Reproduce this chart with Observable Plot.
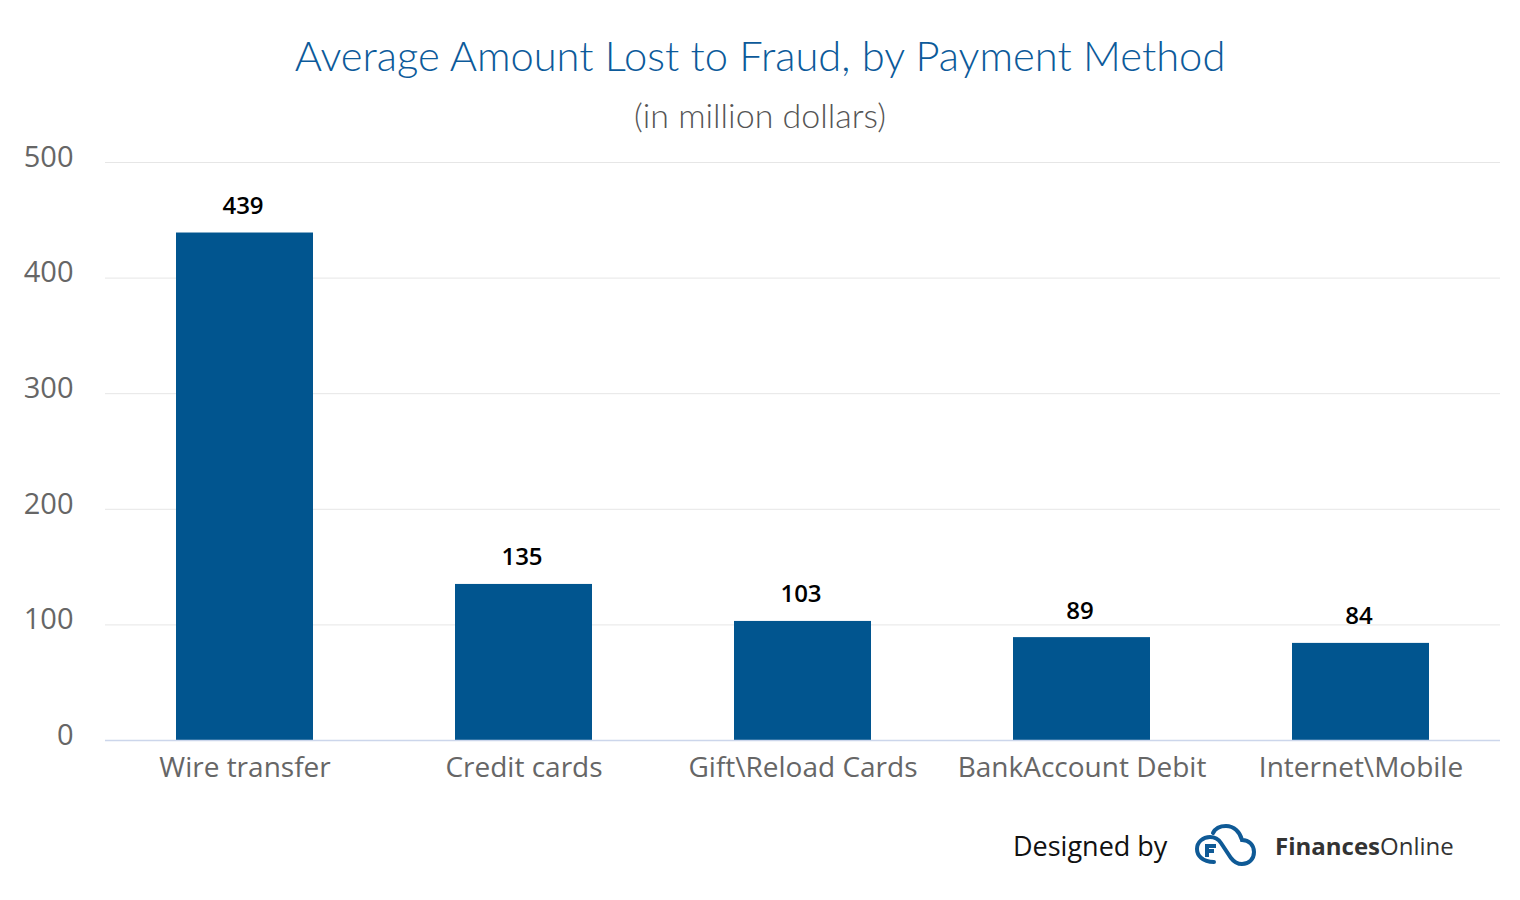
<!DOCTYPE html>
<html>
<head>
<meta charset="utf-8">
<script src="https://cdn.jsdelivr.net/npm/d3@7"></script>
<script src="https://cdn.jsdelivr.net/npm/@observablehq/plot@0.6"></script>
<style>
  html, body { margin: 0; padding: 0; background: #fff; width: 1520px; height: 900px; overflow: hidden; }
  #head { height: 110px; position: relative; }
  #title { position: absolute; left: 0; width: 1520px; top: 35px; text-align: center;
    font-family: Lato, sans-serif; font-weight: 300; font-size: 41.7px; color: #0c5a9a; line-height: 1; }
  #subtitle { position: absolute; left: 0; width: 1520px; top: 98px; text-align: center;
    font-family: Lato, sans-serif; font-weight: 300; font-size: 34px; color: #555; line-height: 1; }
  #chart { height: 710px; }
  #foot { position: relative; height: 80px; }
  #designed { position: absolute; left: 1013px; top: 12px; font-family: "Open Sans", sans-serif; font-size: 27px; color: #111; line-height: 1; }
  #logo { position: absolute; left: 1194px; top: 2px; }
  #brand { position: absolute; left: 1275px; top: 14px; font-family: "Open Sans", sans-serif; font-size: 24px; color: #333; line-height: 1; }
  #brand b { font-weight: 700; }
</style>
</head>
<body>
<div id="head">
  <div id="title">Average Amount Lost to Fraud, by Payment Method</div>
  <div id="subtitle">(in million dollars)</div>
</div>
<div id="chart"></div>
<div id="foot">
  <div id="designed">Designed by</div>
  <svg id="logo" width="72" height="48" viewBox="0 0 72 48">
    <path d="M20 40 C8 40 3 33 3 27 C3 20 9 15 16 15 C21 15 25 18 27 21 L37 36 C40 40 43 42 48 42 C55 42 60 37 60 30 C60 23 55 18 48 18 C46 10 40 4 32 4 C26 4 21 7 19 11"
      fill="none" stroke="#0f5a96" stroke-width="4" stroke-linecap="round"/>
    <path d="M13 35 L13 24 L22 24 M13 29 L20 29" fill="none" stroke="#0f5a96" stroke-width="4"/>
  </svg>
  <div id="brand"><b>Finances</b>Online</div>
</div>
<script>
const categories = ["Wire transfer", "Credit cards", "Gift\\Reload Cards", "BankAccount Debit", "Internet\\Mobile"];
const values = [439, 135, 103, 89, 84];
const yTicks = [0, 100, 200, 300, 400, 500];

const data = categories.map((c, i) => ({category: c, value: values[i]}));

const chart = Plot.plot({
  width: 1520,
  height: 710,
  marginTop: 52,
  marginBottom: 80,
  marginLeft: 105,
  marginRight: 20,
  style: {fontFamily: "'Open Sans', sans-serif", background: "#fff"},
  x: {domain: categories, paddingInner: 0.51, paddingOuter: 0.255, label: null},
  y: {domain: [0, 500], label: null},
  marks: [
    Plot.gridY(yTicks, {stroke: "#e6e6e6", strokeOpacity: 1, strokeWidth: 1}),
    Plot.axisY(yTicks, {tickSize: 0, tickPadding: 32, fontSize: 29, fill: "#666", dy: -5, label: null, style: {letterSpacing: "0.5px"}}),
    Plot.barY(data, {x: "category", y: "value", fill: "#01558f"}),
    Plot.ruleY([0], {stroke: "#ccd6eb", strokeWidth: 1.5}),
    Plot.axisX({tickSize: 0, tickPadding: 17, fontSize: 28, fill: "#666", label: null, style: {letterSpacing: "1px"}}),
    Plot.text(data, {x: "category", y: "value", text: d => String(d.value), lineAnchor: "bottom", dy: -19, dx: -2,
      fontSize: 24, fontWeight: 600, fill: "#000", style: {letterSpacing: "0.5px"}})
  ]
});
document.getElementById("chart").appendChild(chart);
</script>
</body>
</html>
